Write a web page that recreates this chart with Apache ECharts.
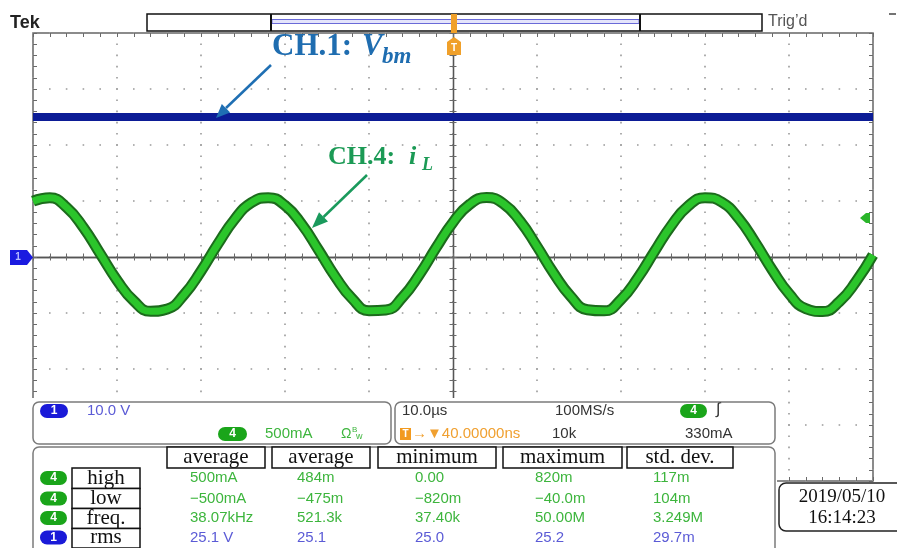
<!DOCTYPE html>
<html><head><meta charset="utf-8">
<script src="https://cdn.jsdelivr.net/npm/echarts@6/dist/echarts.min.js"></script>
<style>html,body{margin:0;padding:0;background:#fff}#c{width:897px;height:548px}</style>
</head><body><div id="c"></div>
<script>
// ---- data ----
const timeUs = [-50,-48,-46,-44,-42,-40,-38,-36,-34,-32,-30,-28,-26,-24,-22,-20,-18,-16,-14,-12,-10,-8,-6,-4,-2,0,2,4,6,8,10,12,14,16,18,20,22,24,26,28,30,32,34,36,38,40,42,44,46,48,50];
const ch1Volts = [25,25,25,25,25,25,25,25,25,25,25,25,25,25,25,25,25,25,25,25,25,25,25,25,25,25,25,25,25,25,25,25,25,25,25,25,25,25,25,25,25,25,25,25,25,25,25,25,25,25,25];
const ch4Amps = [0.498,0.528,0.443,0.264,0.029,-0.207,-0.392,-0.485,-0.464,-0.335,-0.126,0.116,0.336,0.485,0.530,0.461,0.292,0.062,-0.177,-0.372,-0.479,-0.474,-0.358,-0.157,0.084,0.310,0.471,0.531,0.476,0.319,0.095,-0.146,-0.350,-0.471,-0.481,-0.379,-0.187,0.051,0.282,0.455,0.530,0.490,0.345,0.127,-0.115,-0.327,-0.461,-0.487,-0.399,-0.217,0.018];
const headerLabels = ['average','average','minimum','maximum','std. dev.'];
const rowLabels = ['high','low','freq.','rms'];
const rowChannels = ['4','4','4','1'];
const rowValues = [
  ['500mA','484m','0.00','820m','117m'],
  ['\u2212500mA','\u2212475m','\u2212820m','\u221240.0m','104m'],
  ['38.07kHz','521.3k','37.40k','50.00M','3.249M'],
  ['25.1 V','25.1','25.0','25.2','29.7m']
];

// ---- styles ----
const SANS = '"Liberation Sans", Arial, sans-serif';
const SERIF = '"Liberation Serif", "Times New Roman", serif';
const GREEN_T = '#3db53d', BLUE_T = '#5b5bd6', PILL_G = '#1aa51a', PILL_B = '#1a1ad8';
const dotColor = '#9a9a9a', tickColor = '#6a6a6a';

function xAx(extra){return Object.assign({type:'value',min:-50,max:50,interval:10,axisLabel:{show:false},splitLine:{show:false},axisLine:{show:false,onZero:false},axisTick:{show:false},minorTick:{show:false}},extra);}
function yAx(extra){return Object.assign({type:'value',min:-40,max:40,interval:10,axisLabel:{show:false},splitLine:{show:false},axisLine:{show:false,onZero:false},axisTick:{show:false},minorTick:{show:false}},extra);}
const tk = (inside,len)=>({show:true,inside:inside,length:len,lineStyle:{color:tickColor,width:1}});
const mtk = (len)=>({show:true,splitNumber:5,length:len,lineStyle:{color:tickColor,width:1}});

function txt(x,y,s,o){o=o||{};return {type:'text',x:x,y:y,z:o.z||110,silent:true,style:{text:s,fill:o.fill||'#222',font:o.font||('15px '+SANS),align:o.align||'left',textAlign:o.align||'left',verticalAlign:'middle',textVerticalAlign:'middle'}};}
function rect(x,y,w,h,o){o=o||{};return {type:'rect',z:o.z||105,silent:true,shape:{x:x,y:y,width:w,height:h,r:o.r||0},style:{fill:o.fill||'#fff',stroke:o.stroke||null,lineWidth:o.lw||1.5}};}
function pill(x,yc,w,color,label){return [rect(x,yc-7,w,14,{r:7,fill:color,z:108}),txt(x+w/2,yc,label,{fill:'#fff',font:'bold 12px '+SANS,align:'center',z:109})];}
function line(x1,y1,x2,y2,c,w,z){return {type:'line',z:z||106,silent:true,shape:{x1:x1,y1:y1,x2:x2,y2:y2},style:{stroke:c,lineWidth:w}};}
function poly(pts,c,z){return {type:'polygon',z:z||106,silent:true,shape:{points:pts},style:{fill:c}};}

const g = [];
// top bar
g.push(txt(10,23,'Tek',{font:'bold 18px '+SANS,fill:'#222'}));
g.push(rect(147,14,615,17,{stroke:'#111',lw:1.5,fill:'#fff'}));
g.push(rect(272,19.5,367,4,{fill:'#e4e4fb',stroke:'#6a6ad8',lw:1}));
g.push(line(271,14,271,31,'#111',2));
g.push(line(640,14,640,31,'#111',2));
g.push(txt(768,22,"Trig\u2019d",{font:'16px '+SANS,fill:'#555'}));
g.push(line(889,14,896,14,'#444',1.5));
// trigger marker
g.push(rect(451,14,6,19,{fill:'#f0a02a',z:107}));
g.push(poly([[454,37],[461,42],[461,55],[447,55],[447,42]],'#f0a02a',107));
g.push(txt(454,48,'T',{fill:'#fff',font:'bold 10px '+SANS,align:'center',z:108}));
// ground marker ch1 and trigger level marker
g.push(poly([[10,250],[27,250],[33,257.5],[27,265],[10,265]],'#1a1ae0',107));
g.push(txt(18,257.5,'1',{fill:'#b8bcff',font:'bold 10px '+SANS,align:'center',z:108}));
g.push(poly([[860,218],[866,213],[870,213],[870,223],[866,223]],'#2bb52b',107));

// annotations
g.push(txt(272,47,'CH.1:',{font:'bold 31px '+SERIF,fill:'#1f6db0'}));
g.push(txt(362,47,'V',{font:'italic bold 31px '+SERIF,fill:'#1f6db0'}));
g.push(txt(382,57,'bm',{font:'italic bold 23px '+SERIF,fill:'#1f6db0'}));
g.push(line(271,65,226,108,'#1f6fb3',2.5));
g.push(poly([[216,118],[230.2,112.5],[221.8,103.9]],'#1f6fb3'));
g.push(txt(328,157,'CH.4:',{font:'bold 26px '+SERIF,fill:'#1b9a55'}));
g.push(txt(409,157,'i',{font:'italic bold 26px '+SERIF,fill:'#1b9a55'}));
g.push(txt(422,165,'L',{font:'italic bold 18px '+SERIF,fill:'#1b9a55'}));
g.push(line(367,175,323.5,217,'#1a9a5c',2.5));
g.push(poly([[312,228],[328,221.6],[319,212.2]],'#1a9a5c'));

// bottom panels
g.push(rect(31,398,746,152,{fill:'#fff',z:100}));
g.push(rect(33,402,358,42,{r:6,stroke:'#7b7b7b',lw:1.5}));
g.push(rect(395,402,380,42,{r:6,stroke:'#7b7b7b',lw:1.5}));
g.push(rect(33,447,742,110,{r:6,stroke:'#7b7b7b',lw:1.5}));
// panel A
g.push(...pill(40,411,28,PILL_B,'1'));
g.push(txt(87,411,'10.0 V',{fill:BLUE_T}));
g.push(...pill(218,434,29,PILL_G,'4'));
g.push(txt(265,434,'500mA',{fill:GREEN_T}));
g.push(txt(341,434,'\u03A9',{fill:GREEN_T,font:'14px '+SANS}));
g.push(txt(352,430,'B',{fill:GREEN_T,font:'8px '+SANS}));
g.push(txt(356,437,'w',{fill:GREEN_T,font:'9px '+SANS}));
// panel B
g.push(txt(402,411,'10.0\u00B5s',{fill:'#333'}));
g.push(txt(555,411,'100MS/s',{fill:'#333'}));
g.push(...pill(680,411,27,PILL_G,'4'));
g.push(txt(716,410,'\u222B',{fill:'#333',font:'16px '+SANS}));
g.push(rect(400,428,11,12,{fill:'#f29a1f',z:107}));
g.push(txt(405.5,434,'T',{fill:'#fff',font:'bold 10px '+SANS,align:'center',z:108}));
g.push(txt(412,434,'\u2192\u25BC40.00000ns',{fill:'#f0a030'}));
g.push(txt(552,434,'10k',{fill:'#333'}));
g.push(txt(685,434,'330mA',{fill:'#333'}));
// panel C headers
const hx = [167,272,378,503,627], hw = [98,98,118,119,106];
headerLabels.forEach((h,i)=>{
  g.push(rect(hx[i],447,hw[i],21,{stroke:'#111',lw:1.5,z:106}));
  g.push(txt(hx[i]+hw[i]/2,457,h,{font:'21px '+SERIF,fill:'#111',align:'center'}));
});
const ry = [478,498.5,518,537.5], rtop=[468,488.5,508.5,528.5,548];
const vx = [190,297,415,535,653];
rowLabels.forEach((lab,r)=>{
  g.push(...pill(40,ry[r],27,rowChannels[r]==='1'?PILL_B:PILL_G,rowChannels[r]));
  g.push(rect(72,rtop[r],68,rtop[r+1]-rtop[r],{stroke:'#111',lw:1.5,z:106}));
  g.push(txt(106,ry[r],lab,{font:'21px '+SERIF,fill:'#111',align:'center'}));
  rowValues[r].forEach((v,c)=>{
    g.push(txt(vx[c],ry[r],v,{fill:rowChannels[r]==='1'?BLUE_T:GREEN_T}));
  });
});
// date box
g.push(rect(779,483,130,48,{r:7,stroke:'#222',lw:1.5}));
g.push(txt(842,497,'2019/05/10',{font:'19px '+SERIF,fill:'#111',align:'center'}));
g.push(txt(842,518,'16:14:23',{font:'19px '+SERIF,fill:'#111',align:'center'}));

const option = {
  animation:false,
  backgroundColor:'#fff',
  grid:{left:33,right:24,top:33,bottom:67,show:true,borderColor:'#666',borderWidth:1.5,backgroundColor:'#fff'},
  xAxis:[
    xAx({position:'bottom',splitLine:{show:true,lineStyle:{color:dotColor,width:1.6,type:[1.6,9.6],dashOffset:0.8}},axisTick:tk(true,4),minorTick:mtk(4)}),
    xAx({position:'top',axisTick:tk(true,4),minorTick:mtk(4)}),
    xAx({position:'bottom',axisLine:{show:true,onZero:true,onZeroAxisIndex:0,lineStyle:{color:'#555',width:1.3}},axisTick:tk(true,3.5),minorTick:mtk(3.5)}),
    xAx({position:'bottom',axisLine:{show:true,onZero:true,onZeroAxisIndex:0,lineStyle:{color:'#555',width:1.3}},axisTick:tk(false,3.5),minorTick:mtk(3.5)})
  ],
  yAxis:[
    yAx({position:'left',splitLine:{show:true,lineStyle:{color:dotColor,width:1.6,type:[1.6,15.2],dashOffset:0.8}},axisTick:tk(true,4),minorTick:mtk(4)}),
    yAx({position:'right',axisTick:tk(true,4),minorTick:mtk(4)}),
    yAx({position:'left',axisLine:{show:true,onZero:true,onZeroAxisIndex:0,lineStyle:{color:'#555',width:1.3}},axisTick:tk(true,3.5),minorTick:mtk(3.5)}),
    yAx({position:'left',axisLine:{show:true,onZero:true,onZeroAxisIndex:0,lineStyle:{color:'#555',width:1.3}},axisTick:tk(false,3.5),minorTick:mtk(3.5)}),
    {type:'value',min:-2,max:2,interval:0.5,show:false,position:'right'}
  ],
  series:[
    {type:'line',name:'CH1',xAxisIndex:0,yAxisIndex:0,silent:true,showSymbol:false,z:3,
     data:timeUs.map((t,i)=>[t,ch1Volts[i]]),lineStyle:{color:'#0c1c96',width:8,cap:'butt'}},
    {type:'line',name:'CH4 edge',xAxisIndex:0,yAxisIndex:4,silent:true,showSymbol:false,smooth:0.5,z:4,
     data:timeUs.map((t,i)=>[t,ch4Amps[i]]),lineStyle:{color:'#1c6b1c',width:11,cap:'butt'}},
    {type:'line',name:'CH4',xAxisIndex:0,yAxisIndex:4,silent:true,showSymbol:false,smooth:0.5,z:5,
     data:timeUs.map((t,i)=>[t,ch4Amps[i]]),lineStyle:{color:'#2bc52b',width:7,cap:'butt'}}
  ],
  graphic:{elements:g}
};
const chart = echarts.init(document.getElementById('c'),null,{renderer:'canvas'});
chart.setOption(option);
</script></body></html>
